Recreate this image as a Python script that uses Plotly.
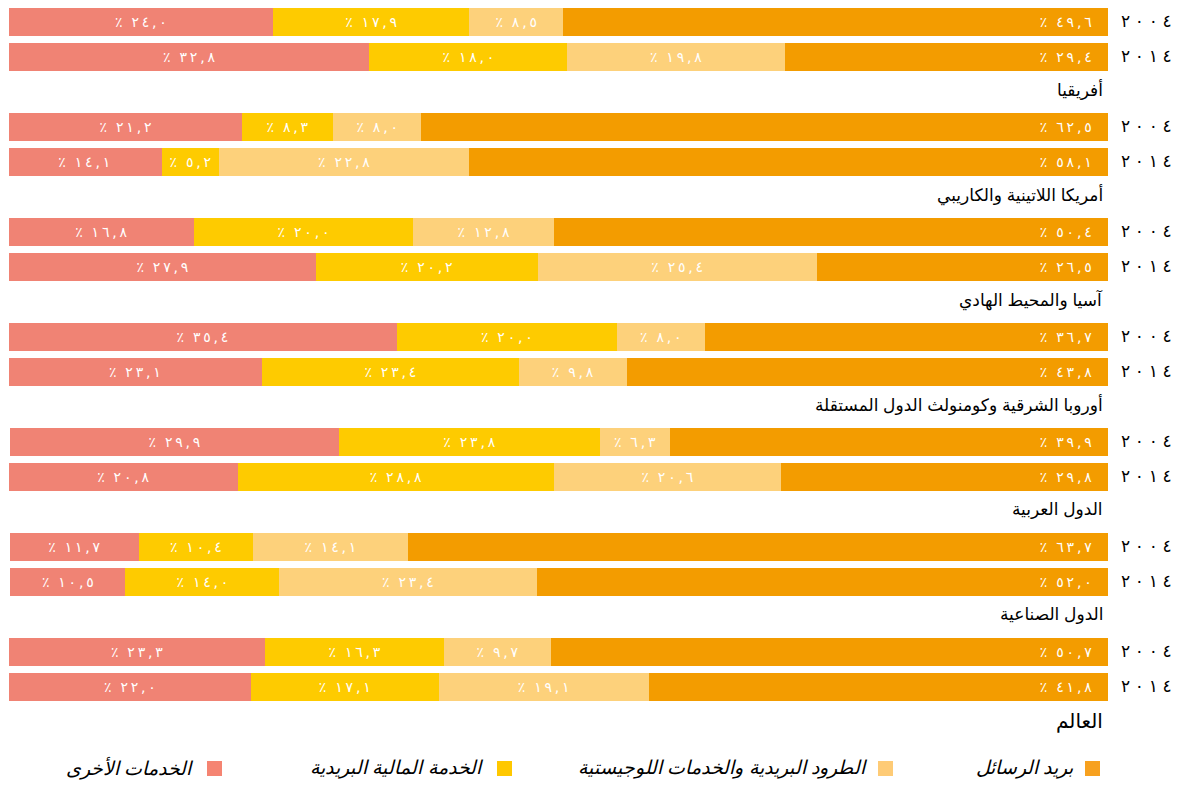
import plotly.graph_objects as go

regions = ["أفريقيا", "أمريكا اللاتينية والكاريبي", "آسيا والمحيط الهادي",
           "أوروبا الشرقية وكومنولث الدول المستقلة", "الدول العربية",
           "الدول الصناعية", "العالم"]
years = ["٢٠٠٤", "٢٠١٤"]

# values per bar, order: region0-2004, region0-2014, region1-2004, ...
letter_mail = [49.6, 29.4, 62.5, 58.1, 50.4, 26.5, 36.7, 43.8, 39.9, 29.8, 63.7, 52.0, 50.7, 41.8]
parcels     = [8.5, 19.8, 8.0, 22.8, 12.8, 25.4, 8.0, 9.8, 6.3, 20.6, 14.1, 23.4, 9.7, 19.1]
financial   = [17.9, 18.0, 8.3, 5.2, 20.0, 20.2, 20.0, 23.4, 23.8, 28.8, 10.4, 14.0, 16.3, 17.1]
other       = [24.0, 32.8, 21.2, 14.1, 16.8, 27.9, 35.4, 23.1, 29.9, 20.8, 11.7, 10.5, 23.3, 22.0]

series_names = ["بريد الرسائل", "الطرود البريدية والخدمات اللوجيستية",
                "الخدمة المالية البريدية", "الخدمات الأخرى"]
bar_colors = ["#F39C00", "#FDD17B", "#FECB00", "#F08374"]
legend_colors = ["#F7A11F", "#FECB76", "#FFC800", "#F58472"]

AR_DIGITS = str.maketrans("0123456789", "٠١٢٣٤٥٦٧٨٩")
LRO, PDF = "\u202d", "\u202c"
THIN = "\u2009"


def spaced(s):
    return THIN.join(s)


def ar_label(v, pad=""):
    num = f"{v:.1f}".replace(".", ",").translate(AR_DIGITS)
    return LRO + "٪\u00a0\u00a0" + spaced(num) + pad + PDF


# y slots: 3 per region (2004, 2014, region name)
y_pos = []
y_text = []
for g in range(len(regions)):
    for k, yr in enumerate(years):
        y_pos.append(3 * g + k)
        y_text.append(LRO + " ".join(yr) + PDF)

fig = go.Figure()
all_series = [letter_mail, parcels, financial, other]
for i, (name, vals) in enumerate(zip(series_names, all_series)):
    pad = "\u00a0\u00a0\u00a0" if i == 0 else ""
    labels = [ar_label(v, pad) for v in vals]
    fig.add_trace(go.Bar(
        name=name, x=vals, y=y_pos, orientation="h",
        marker=dict(color=bar_colors[i], line=dict(width=0)),
        width=0.8,
        text=labels, textposition="inside",
        insidetextanchor="start" if i == 0 else "middle",
        textangle=0, constraintext="none",
        textfont=dict(color="white", size=14, family="DejaVu Sans"),
        hoverinfo="skip", showlegend=False,
    ))

annotations = []
for g, r in enumerate(regions):
    annotations.append(dict(
        xref="paper", yref="y", x=1, y=3 * g + 2 - (0.05 if g < 6 else 0.0),
        xanchor="right", yanchor="middle", xshift=-3,
        text=r, showarrow=False,
        font=dict(size=20 if g == 6 else 17, color="black", family="Arial, DejaVu Sans"),
    ))

# legend (right-to-left layout)
W = 1099.0
H = 735.0
left = 9.0
plot_bottom = 739.0
leg_items = [  # square right px, text right px
    (1100, 1076),
    (893, 870),
    (512, 486),
    (222, 196),
]
shapes = []
for i, (sq_r, tx_r) in enumerate(leg_items):
    shapes.append(dict(
        type="rect", xref="paper", yref="paper",
        x0=(sq_r - 15 - left) / W, x1=(sq_r - left) / W,
        y0=-(776 - plot_bottom) / H, y1=-(761 - plot_bottom) / H,
        fillcolor=legend_colors[i], line=dict(width=0),
    ))
    annotations.append(dict(
        xref="paper", yref="paper", x=(tx_r - left) / W, y=-(768 - plot_bottom) / H,
        xanchor="right", yanchor="middle", showarrow=False,
        text="<i>" + series_names[i] + "</i>",
        font=dict(size=19, color="black", family="Arial, DejaVu Sans"),
    ))

fig.update_layout(
    width=1183, height=785,
    margin=dict(l=9, r=75, t=4, b=46),
    barmode="stack", bargap=0.2,
    plot_bgcolor="white", paper_bgcolor="white",
    xaxis=dict(range=[100, 0], showticklabels=False, showgrid=False,
               zeroline=False, showline=False, fixedrange=True),
    yaxis=dict(range=[20.5, -0.5], side="right", tickmode="array",
               tickvals=y_pos, ticktext=y_text, showgrid=False,
               zeroline=False, showline=False, ticks="",
               ticklabelstandoff=12,
               tickfont=dict(size=17, color="black", family="Arial, DejaVu Sans")),
    annotations=annotations, shapes=shapes,
    font=dict(family="Arial, DejaVu Sans"),
)

fig.write_html("out.html")
